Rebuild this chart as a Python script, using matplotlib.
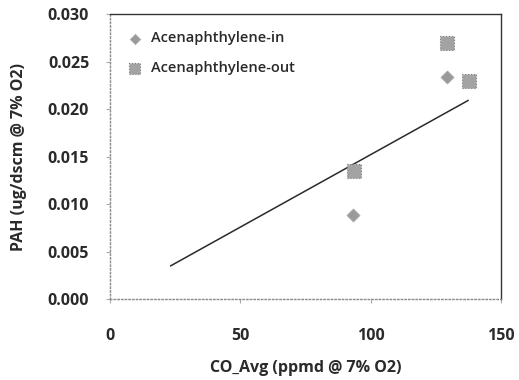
import matplotlib.pyplot as plt

# measured PAH vs CO
co_in = [93.3, 129.5]
pah_in = [0.0089, 0.0234]
co_out = [93.5, 129.5, 137.7]
pah_out = [0.0135, 0.0270, 0.0230]

# linear trend line end points
trend_x = [23.3, 137.4]
trend_y = [0.0035, 0.0209]

x_ticks = [0, 50, 100, 150]
y_ticks = [0.000, 0.005, 0.010, 0.015, 0.020, 0.025, 0.030]

plt.rcParams['font.family'] = ['Open Sans', 'DejaVu Sans']

fig = plt.figure(figsize=(5.19, 3.80), dpi=100)
ax = fig.add_axes([0.212, 0.213, 0.753, 0.750])

ax.scatter(co_in, pah_in, marker='D', s=45, color='#9a9a9a', edgecolors='#b0b0b0',
           linewidths=0.5, label='Acenaphthylene-in', zorder=3)
ax.scatter(co_out, pah_out, marker='s', s=100, color='#a3a3a3', edgecolors='#7d7d7d',
           linewidths=0.8, linestyle=':', label='Acenaphthylene-out', zorder=3)
ax.plot(trend_x, trend_y, color='#2a2a2a', lw=1.1, zorder=2)

ax.set_xlim(0, 150)
ax.set_ylim(0, 0.030)
ax.set_xticks(x_ticks)
ax.set_yticks(y_ticks)
ax.set_yticklabels(['%.3f' % v for v in y_ticks])

for side in ['left', 'bottom']:
    ax.spines[side].set_linestyle(':')
    ax.spines[side].set_color('#8a8a8a')
    ax.spines[side].set_linewidth(1.0)
for side in ['top', 'right']:
    ax.spines[side].set_color('#333333')
    ax.spines[side].set_linewidth(1.0)

ax.tick_params(axis='y', length=3, color='#aaaaaa', pad=12, labelsize=11.5,
               labelcolor='#2a2a2a')
ax.tick_params(axis='x', length=3, color='#aaaaaa', pad=18, labelsize=11.5,
               labelcolor='#2a2a2a')
for lbl in ax.get_xticklabels() + ax.get_yticklabels():
    lbl.set_fontweight('bold')

ax.set_xlabel('CO_Avg (ppmd @ 7% O2)', fontsize=11.5, fontweight='bold',
              color='#2a2a2a', labelpad=11)
ax.set_ylabel('PAH (ug/dscm @ 7% O2)', fontsize=11.5, fontweight='bold',
              color='#2a2a2a', labelpad=15)

leg = ax.legend(loc='upper left', frameon=False, fontsize=10.5, handletextpad=0.1,
                borderaxespad=0.3, labelspacing=1.1, markerscale=0.8,
                bbox_to_anchor=(0.0, 0.975))
for t in leg.get_texts():
    t.set_color('#2a2a2a')
    t.set_fontweight('semibold')

fig.savefig('out.png', dpi=100)
